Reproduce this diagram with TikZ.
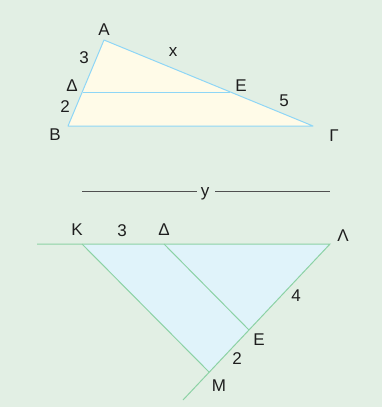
\documentclass[tikz,border=0pt]{standalone}
\usepackage{fontspec}
\setmainfont{Liberation Sans}
\definecolor{bgc}{RGB}{226,239,228}
\definecolor{yfill}{RGB}{255,251,232}
\definecolor{bline}{RGB}{142,214,246}
\definecolor{bfill}{RGB}{224,243,250}
\definecolor{gline}{RGB}{140,210,165}
\definecolor{txt}{RGB}{30,30,30}
\definecolor{yline}{RGB}{80,80,80}
\begin{document}
\begin{tikzpicture}[x=1pt,y=-1pt,
  lbl/.style={font=\fontsize{17}{17}\selectfont, text=txt, inner sep=0pt},
  bedge/.style={draw=bline, line width=1pt},
  gedge/.style={draw=gline, line width=1pt},
  yedge/.style={draw=yline, line width=0.8pt}]
\fill[bgc] (0,0) rectangle (382,407);
\useasboundingbox (0,0) rectangle (382,407);
% top triangle
\coordinate (A) at (104,40);
\coordinate (B) at (68,126);
\coordinate (G) at (313,126);
\coordinate (D) at (83,92);
\coordinate (E) at (230,92);
\fill[yfill] (A) -- (B) -- (G) -- cycle;
\draw[bedge, line join=round] (A) -- (B) -- (G) -- cycle;
\draw[bedge] (D) -- (E);
\node[lbl] (lA) at (104,30) {A};
\node[lbl] (l3) at (84,58) {3};
\node[lbl] (lx) at (173,52) {x};
\node[lbl] (lD) at (72,86) {Δ};
\node[lbl] (lE) at (241,86) {E};
\node[lbl] (l2) at (65,107) {2};
\node[lbl] (l5) at (284,101) {5};
\node[lbl] (lB) at (55,135) {B};
\node[lbl] (lG) at (334,136) {Γ};
% y line
\coordinate (y1) at (82,191);
\coordinate (y2) at (197,191);
\coordinate (y3) at (215,191);
\coordinate (y4) at (330,191);
\node[lbl] (ly) at (205,193.5) {y};
\draw[yedge] (y1) -- (y2);
\draw[yedge] (y3) -- (y4);
% bottom triangle
\coordinate (K) at (82,244);
\coordinate (L) at (330,244);
\coordinate (M) at (209,372);
\coordinate (D2) at (164,244);
\coordinate (E2) at (249,330);
\coordinate (H) at (37,244);
\coordinate (T) at (183,400);
\fill[bfill] (K) -- (L) -- (M) -- cycle;
\draw[gedge] (H) -- (L) -- (T);
\draw[gedge] (K) -- (M);
\draw[gedge] (D2) -- (E2);
\node[lbl] (lK) at (77,230) {K};
\node[lbl] (l3b) at (122,231) {3};
\node[lbl] (lD2) at (164,230) {Δ};
\node[lbl] (lL) at (343,236) {Λ};
\node[lbl] (l4) at (296,296) {4};
\node[lbl] (lE2) at (259,340) {E};
\node[lbl] (l2b) at (237,359) {2};
\node[lbl] (lM) at (219,386) {M};
\end{tikzpicture}
\end{document}
